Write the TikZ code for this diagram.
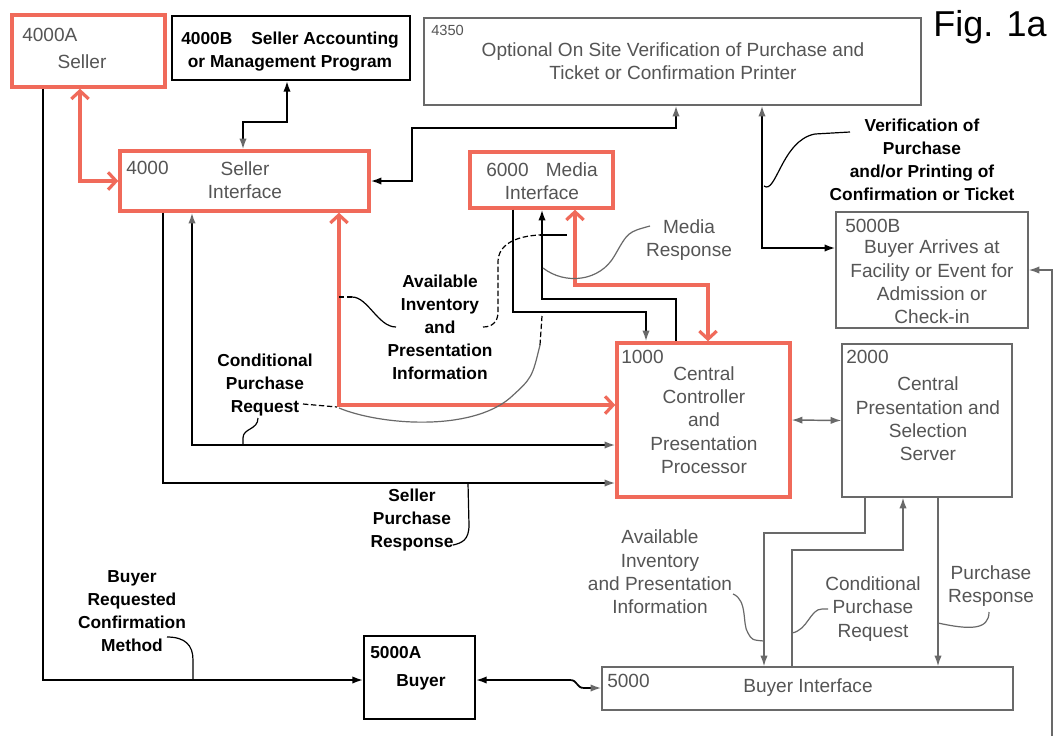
\documentclass[tikz,border=0pt]{standalone}
\usepackage{fontspec}
\setmainfont{Liberation Sans}
\usetikzlibrary{arrows.meta,fit}
\definecolor{fred}{RGB}{240,106,90}
\definecolor{lgray}{RGB}{105,105,105}
\definecolor{tgray}{RGB}{85,85,85}
\tikzset{
 RB/.tip={Straight Barb[length=6pt,width=13pt,line width=2.4pt]},
 BK/.tip={Latex[length=8pt,width=5.5pt]},
 GY/.tip={Latex[length=8pt,width=5.5pt,color=lgray]}
}
\begin{document}
\begin{tikzpicture}[x=0.75pt,y=-0.75pt,
 box/.style={draw, inner sep=0pt, rectangle},
 redbox/.style={box, draw=fred, line width=2.6pt},
 blkbox/.style={box, draw=black, line width=1.5pt},
 grybox/.style={box, draw=lgray, line width=1.1pt},
 gtxt/.style={text=tgray, font=\fontsize{14.3}{17.5}\selectfont, align=center, inner sep=0pt},
 btxt/.style={text=black, font=\bfseries\fontsize{13}{17.25}\selectfont, align=center, inner sep=0pt},
 redarr/.style={draw=fred, line width=3pt, arrows=RB-RB},
 blk/.style={draw=black, line width=1.3pt},
 gry/.style={draw=lgray, line width=1.1pt},
 leader/.style={draw=black, line width=0.9pt},
 gleader/.style={draw=lgray, line width=0.9pt},
 dleader/.style={draw=black, line width=0.9pt, dash pattern=on 4pt off 2pt}
]
\useasboundingbox[fill=white] (0,0) rectangle (1057,736);

% boxes
\node[redbox, fit={(12,15) (165,87)}] (A) {};
\node[blkbox, fit={(172,16) (410,80)}] (B) {};
\node[grybox, fit={(424,18) (921,105)}] (C) {};
\node[redbox, fit={(120,151) (369,211)}] (D) {};
\node[redbox, fit={(470,152) (613,208)}] (E) {};
\node[grybox, fit={(836,212) (1028,328)}] (F) {};
\node[redbox, fit={(617,343) (790,497)}] (G) {};
\node[grybox, fit={(842,344) (1012,497)}] (H) {};
\node[blkbox, fit={(364,636) (475,719)}] (I) {};
\node[grybox, fit={(602,667) (1013,710)}] (J) {};

% box texts
\node[gtxt, anchor=west] (tA1) at (22,35) {4000A};
\node[gtxt] (tA2) at (82,62) {Seller};
\node[btxt] (tB) at (290,52) {4000B\hspace{1.1em}Seller Accounting\\or Management Program};
\node[gtxt, anchor=west, font=\fontsize{11}{13}\selectfont] (tC1) at (431,30) {4350};
\node[gtxt] (tC2) at (673,61) {Optional On Site Verification of Purchase and\\Ticket or Confirmation Printer};
\node[gtxt, anchor=west] (tD1) at (126,168) {4000};
\node[gtxt] (tD2) at (245,180) {Seller\\Interface};
\node[gtxt] (tE) at (542,181) {6000\hspace{0.9em}Media\\Interface};
\node[gtxt, anchor=west] (tF1) at (845,226) {5000B};
\node[gtxt] (tF2) at (932,282) {Buyer Arrives at\\Facility or Event for\\Admission or\\Check-in};
\node[gtxt, anchor=west] (tG1) at (621,357) {1000};
\node[gtxt] (tG2) at (704,420) {Central\\Controller\\and\\Presentation\\Processor};
\node[gtxt, anchor=west] (tH1) at (846,357) {2000};
\node[gtxt] (tH2) at (928,419) {Central\\Presentation and\\Selection\\Server};
\node[btxt, anchor=west] (tI1) at (370,653) {5000A};
\node[btxt] (tI2) at (421,682) {Buyer};
\node[gtxt, anchor=west] (tJ1) at (607,681) {5000};
\node[gtxt] (tJ2) at (808,688) {Buyer Interface};
\node[anchor=east, font=\fontsize{27}{30}\selectfont, inner sep=0pt] (fig) at (1047,27) {Fig. 1a};

% labels
\node[btxt] (lCPR) at (265,385) {Conditional\\Purchase\\Request};
\node[btxt] (lAIP) at (440,327) {Available\\Inventory\\and\\Presentation\\Information};
\node[btxt] (lSPR) at (412,520) {Seller\\Purchase\\Response};
\node[btxt] (lBRC) at (132,611) {Buyer\\Requested\\Confirmation\\Method};
\node[btxt] (lVer) at (922,160) {Verification of\\Purchase\\and/or Printing of\\Confirmation or Ticket};
\node[gtxt] (lMR) at (689,240) {Media\\Response};
\node[gtxt] (lAIP2) at (660,572) {Available\\Inventory\\and Presentation\\Information};
\node[gtxt] (lCPR2) at (873,609) {Conditional\\Purchase\\Request};
\node[gtxt] (lPR) at (991,586) {Purchase\\Response};

\coordinate (br) at (1052,736);

% connectors
\draw[redarr] (A.south -| 80,0) |- (D.west);
\draw[blk, arrows=BK-GY] (B.south -| 287,0) -- (287,122) -| (D.north -| 243,0);
\draw[blk, arrows=BK-GY] (D.east) -| (412,128) -| (C.south -| 676,0);
\draw[blk, arrows=GY-BK] (C.south -| 762,0) |- (F.west |- 0,248);
\draw[gry, arrows=-GY] (br) |- (F.east);
\draw[redarr] (D.south -| 339,0) |- (G.west |- 0,405);
\draw[blk, arrows=GY-GY] (D.south -| 192,0) |- (G.west |- 0,445);
\draw[blk, arrows=-GY] (D.south -| 163,0) |- (G.west |- 0,483);
\draw[blk, arrows=-GY] (E.south -| 513,0) |- (646,312) -- (G.north -| 646,0);
\draw[blk, arrows=BK-] (E.south -| 542,0) |- (676,299) -- (G.north -| 676,0);
\draw[redarr] (E.south -| 575,0) |- (708,285) -- (G.north -| 708,0);
\draw[gry, arrows=BK-GY] (G.east) -- (H.west);
\draw[gry, arrows=-GY] (H.south -| 865,0) |- (764,533) -- (J.north -| 764,0);
\draw[gry, arrows=-GY] (J.north -| 792,0) |- (903,550) -- (H.south -| 903,0);
\draw[gry, arrows=-GY] (H.south -| 938,0) -- (J.north -| 938,0);
\draw[blk, arrows=-BK] (A.south -| 43,0) |- (I.west |- 0,680);
\draw[blk, arrows=BK-GY] (I.east |- 0,680) -- (570,680) .. controls (578,680) and (576,688) .. (584,688) -- (J.west |- 0,688);

% leaders
\draw[leader] (764,186) .. controls (776,195) and (782,140) .. (815,134) -- (850,132);
\draw[gleader] (543,268) .. controls (565,285) and (600,282) .. (615,255) .. controls (628,232) .. (650,226);
\draw[dleader] (339,297) -- (352,297);
\draw[leader] (352,297) .. controls (368,297) and (378,327) .. (396,327);
\draw[dleader] (483,327) .. controls (492,327) and (498,322) .. (498,312) -- (498,262) .. controls (498,245) and (515,236) .. (540,235);
\draw[leader] (540,235) -- (567,235);
\draw[gleader] (339,408) .. controls (380,425) and (470,432) .. (510,398) .. controls (532,378) .. (540,345);
\draw[dleader] (540,345) -- (542,316);
\draw[dleader] (303,404) -- (337,407);
\draw[leader] (258,418) .. controls (258,430) and (243,428) .. (243,438) -- (243,445);
\draw[leader] (468,483) -- (469,525) .. controls (469,540) and (462,543) .. (453,545);
\draw[leader] (167,637) .. controls (185,637) and (193,645) .. (193,660) -- (193,680);
\draw[gleader] (733,594) .. controls (748,600) and (742,625) .. (748,633) .. controls (752,640) .. (764,641);
\draw[gleader] (828,609) -- (822,609) .. controls (810,609) and (808,630) .. (792,633);
\draw[gleader] (989,612) .. controls (989,630) and (970,630) .. (938,623);
\end{tikzpicture}
\end{document}
